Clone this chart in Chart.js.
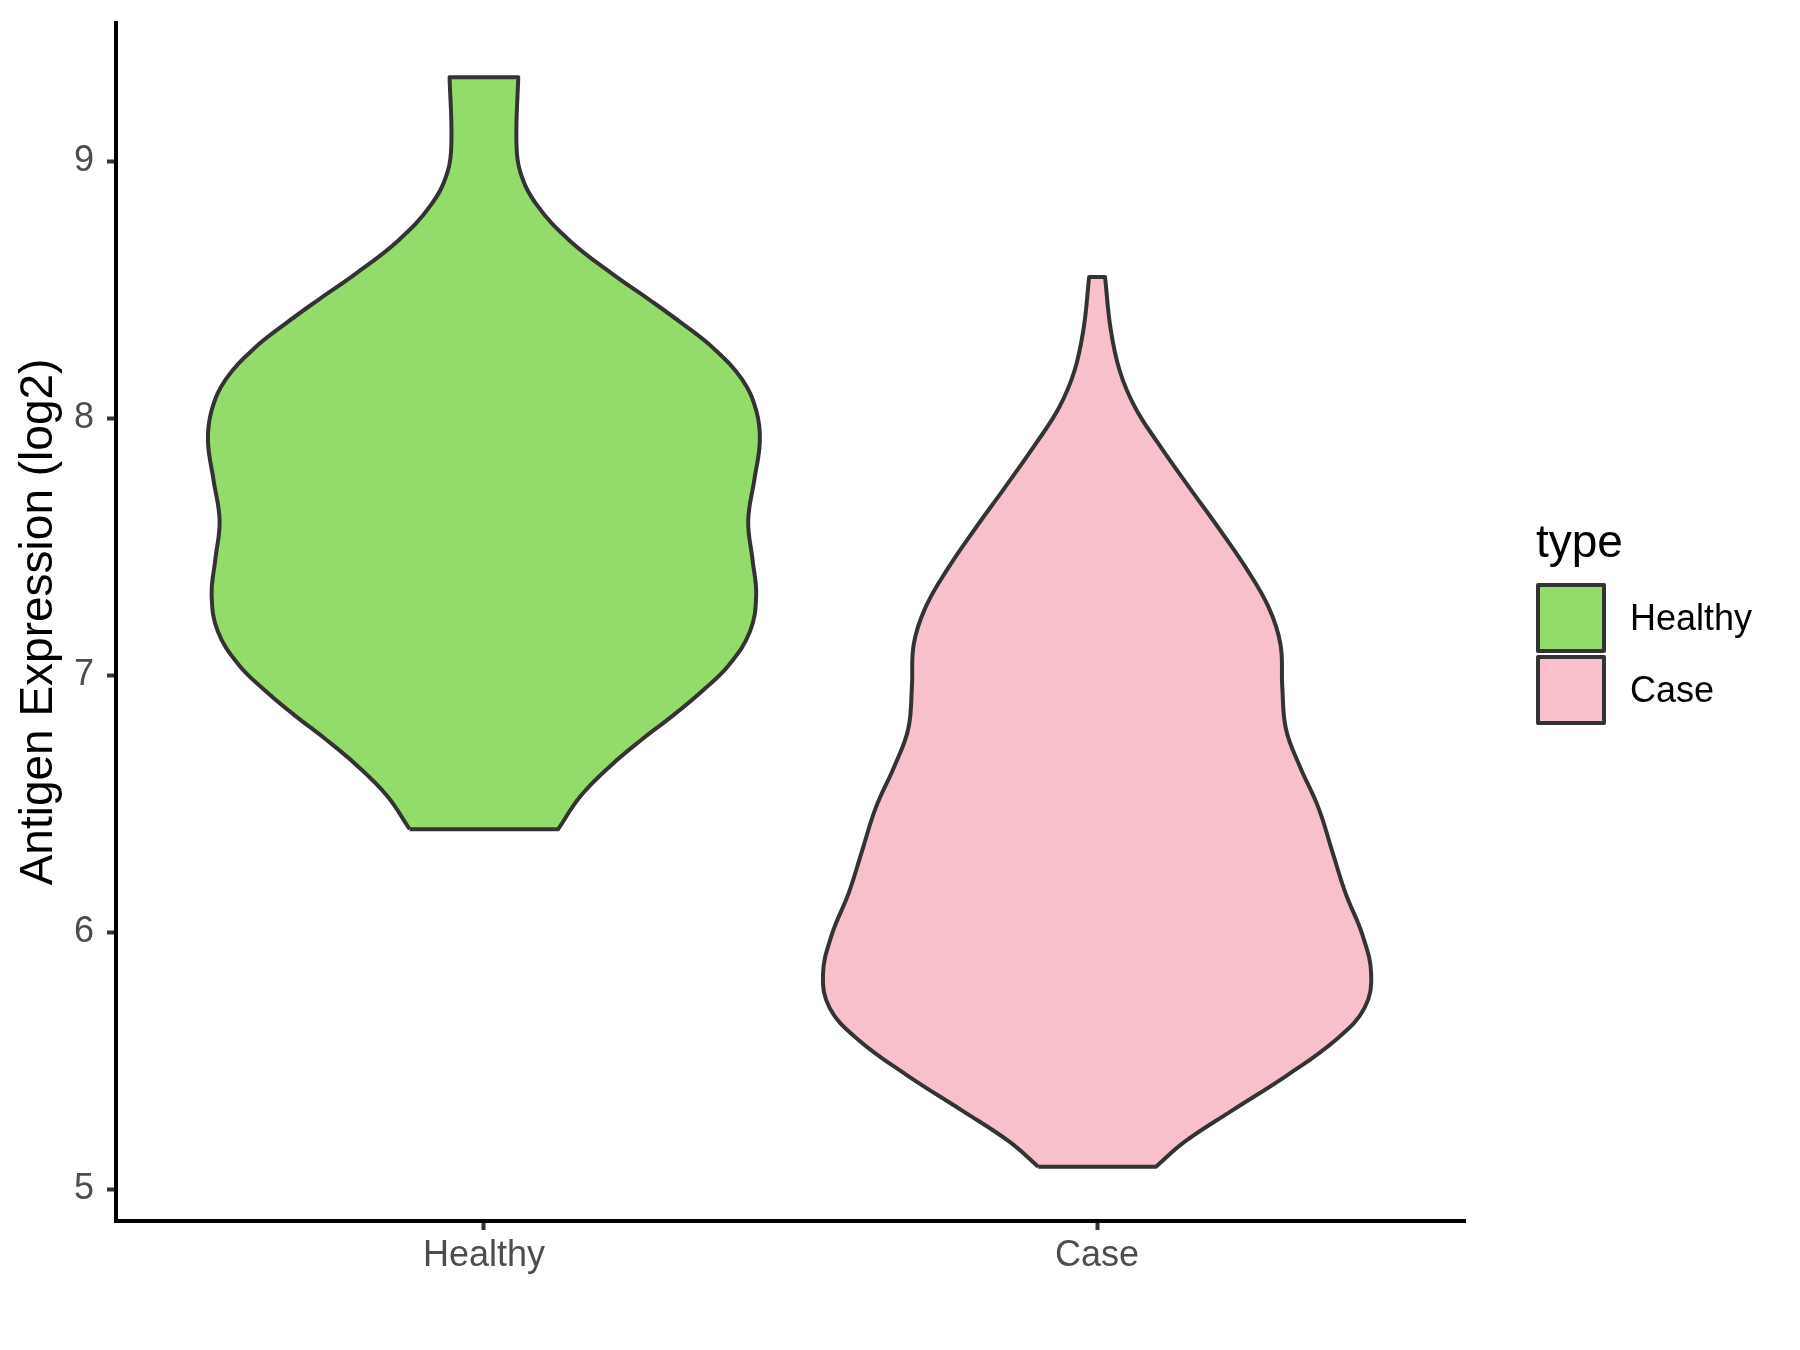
<!DOCTYPE html>
<html>
<head>
<meta charset="utf-8">
<script src="https://cdn.jsdelivr.net/npm/chart.js@4.4.1/dist/chart.umd.min.js"></script>
<style>
  body { margin: 0; background: #ffffff; }
  #wrap { position: relative; width: 1800px; height: 1350px; }
  #legend { position: absolute; left: 0; top: 0; font-family: "Liberation Sans", Arial, sans-serif; }
  .legTitle { position: absolute; left: 1536px; top: 513px; font-size: 46px; line-height: 56px; color: #000; }
  .legKey { position: absolute; left: 1536px; width: 70px; height: 70px; box-sizing: border-box; border: 4px solid #333333; border-radius: 2px; }
  .legText { position: absolute; left: 1630px; font-size: 36px; line-height: 44px; color: #000; white-space: nowrap; }
</style>
</head>
<body>
<div id="wrap">
  <canvas id="chart" width="1800" height="1350"></canvas>
  <div id="legend"></div>
</div>
<script>
// categories on the x axis
const categories = ["Healthy", "Case"];
const yTicks = [5, 6, 7, 8, 9];

// violin outline: y value and half width (in category units), bottom to top
const healthyY = [6.40, 6.53, 6.65, 6.75, 6.84, 6.94, 7.04, 7.17, 7.31, 7.45, 7.60, 7.76,
                  7.91, 8.03, 8.15, 8.27, 8.37, 8.46, 8.56, 8.69, 8.83, 8.96, 9.08, 9.326];
const healthyWidth = [0.121, 0.158, 0.208, 0.258, 0.307, 0.357, 0.400, 0.434, 0.444, 0.438, 0.431, 0.441,
                      0.450, 0.444, 0.421, 0.375, 0.322, 0.270, 0.210, 0.140, 0.086, 0.059, 0.053, 0.056];

const caseY = [5.087, 5.184, 5.302, 5.444, 5.586, 5.704, 5.834, 5.987, 6.152, 6.318, 6.483, 6.648,
               6.790, 6.955, 7.120, 7.262, 7.416, 7.569, 7.734, 7.900, 8.041, 8.183, 8.348, 8.549];
const caseWidth = [0.096, 0.143, 0.218, 0.311, 0.392, 0.436, 0.447, 0.433, 0.405, 0.383, 0.361, 0.330,
                   0.308, 0.302, 0.299, 0.280, 0.243, 0.199, 0.149, 0.100, 0.062, 0.037, 0.022, 0.013];

const fills = ["#93DB6B", "#F8C0CB"];
const outline = "#333333";

// closed outline; the corners are doubled so the flat ends stay straight
const violinPoints = (center, ys, ws) =>
{
    const n = ys.length;
    const pts = [];

    pts.push({ x: center - ws[0], y: ys[0] });
    pts.push({ x: center + ws[0], y: ys[0] });
    pts.push({ x: center + ws[0], y: ys[0] });
    for (let i = 1; i < n - 1; i++) pts.push({ x: center + ws[i], y: ys[i] });
    pts.push({ x: center + ws[n - 1], y: ys[n - 1] });
    pts.push({ x: center + ws[n - 1], y: ys[n - 1] });
    pts.push({ x: center - ws[n - 1], y: ys[n - 1] });
    pts.push({ x: center - ws[n - 1], y: ys[n - 1] });
    for (let i = n - 2; i > 0; i--) pts.push({ x: center - ws[i], y: ys[i] });
    pts.push({ x: center - ws[0], y: ys[0] });

    return pts;
};

const series = [[healthyY, healthyWidth], [caseY, caseWidth]];

const datasets = series.map(([ys, ws], i) => ({
    label: categories[i],
    data: violinPoints(i + 1, ys, ws),
    backgroundColor: fills[i],
    borderColor: outline,
    borderWidth: 4,
    borderJoinStyle: "round",
    fill: "shape",
    tension: 0.4,
    pointRadius: 0
}));

const tickFont = { family: "Liberation Sans", size: 36 };

new Chart(document.getElementById("chart"), {
    type: "line",
    data: { datasets },
    options: {
        responsive: false,
        animation: false,
        layout: { padding: { top: 23, right: 335, bottom: 0, left: 0 } },
        plugins: { legend: { display: false }, tooltip: { enabled: false } },
        scales: {
            x: {
                type: "linear",
                min: 0.4,
                max: 2.6,
                afterBuildTicks: s => { s.ticks = categories.map((c, i) => ({ value: i + 1 })); },
                afterFit: s => { s.height = 129; s.paddingLeft = 0; s.paddingRight = 0; },
                ticks: {
                    callback: v => categories[Math.round(v) - 1],
                    font: tickFont,
                    color: "#4D4D4D",
                    padding: 4,
                    maxRotation: 0
                },
                grid: { drawOnChartArea: false, tickLength: 9, tickWidth: 4, tickColor: "#333333" },
                border: { display: true, color: "#000000", width: 4 }
            },
            y: {
                type: "linear",
                min: 4.8755,
                max: 9.537,
                afterBuildTicks: s => { s.ticks = yTicks.map(v => ({ value: v })); },
                afterFit: s => { s.width = 116; s.paddingTop = 0; s.paddingBottom = 0; },
                ticks: { font: tickFont, color: "#4D4D4D", padding: 13 },
                grid: { drawOnChartArea: false, tickLength: 9, tickWidth: 4, tickColor: "#333333" },
                border: { display: true, color: "#000000", width: 4 },
                title: {
                    display: true,
                    text: "Antigen Expression (log2)",
                    font: { family: "Liberation Sans", size: 46 },
                    color: "#000000",
                    padding: { top: 12, bottom: 0 }
                }
            }
        }
    }
});

// legend
const legend = document.getElementById("legend");
let html = `<div class="legTitle">type</div>`;
categories.forEach((c, i) =>
{
    const top = 583 + i * 72;
    html += `<div class="legKey" style="top:${top}px;background:${fills[i]}"></div>`;
    html += `<div class="legText" style="top:${top + 35 - 22}px">${c}</div>`;
});
legend.innerHTML = html;
</script>
</body>
</html>
